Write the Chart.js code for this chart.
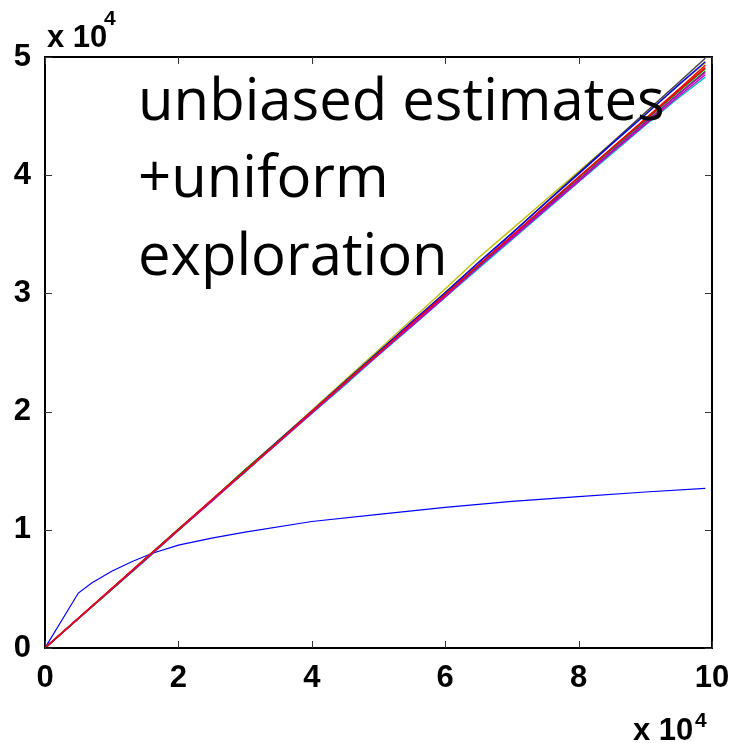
<!DOCTYPE html>
<html>
<head>
<meta charset="utf-8">
<script src="https://cdn.jsdelivr.net/npm/chart.js@4/dist/chart.umd.min.js"></script>
<style>
  body { margin: 0; background: #fff; }
  canvas { display: block; }
</style>
</head>
<body>
<canvas id="chart" width="742" height="743"></canvas>
<script>
// x positions shared by the near-linear runs
var xs = [0, 5000, 10000, 15000, 20000, 25000, 30000, 35000, 40000, 45000, 50000,
          55000, 60000, 65000, 70000, 75000, 80000, 85000, 90000, 95000, 99000];

// the one run that flattens out
var flatX = [0, 5000, 7000, 10000, 13000, 16000, 20000, 25000, 30000, 40000, 50000,
             60000, 70000, 80000, 90000, 99000];
var flatY = [0, 4650, 5500, 6500, 7300, 8000, 8700, 9300, 9800, 10700, 11300,
             11900, 12400, 12800, 13200, 13500];

var runGray    = [0, 2500, 4980, 7510, 10000, 12470, 15010, 17540, 20000, 22530, 25060, 27520, 30070, 32610, 35090, 37650, 40200, 42750, 45300, 47850, 49900];
var runBlue    = [0, 2510, 5020, 7500, 10030, 12510, 15040, 17560, 20030, 22570, 25050, 27590, 30060, 32610, 35080, 37630, 40110, 42650, 45120, 47640, 49600];
var runYellow  = [0, 2510, 5000, 7530, 10010, 12540, 15090, 17560, 20120, 22680, 25220, 27800, 30380, 33020, 35440, 37880, 40300, 42750, 45180, 47620, 49500];
var runRed     = [0, 2520, 5040, 7530, 10050, 12520, 15060, 17500, 19960, 22480, 24920, 27440, 29880, 32400, 34850, 37320, 39840, 42300, 44780, 47260, 49300];
var runRed2    = [0, 2520, 5030, 7550, 10020, 12540, 15000, 17470, 20010, 22480, 24940, 27470, 29910, 32430, 34870, 37390, 39830, 42300, 44740, 47170, 49100];
var runGreen2  = [0, 2500, 4990, 7540, 10060, 12480, 15080, 17520, 19940, 22530, 24960, 27390, 29940, 32340, 34800, 37250, 39770, 42200, 44640, 47080, 49000];
var runGreen   = [0, 2470, 4940, 7410, 9940, 12460, 14880, 17440, 19860, 22280, 24850, 27270, 29700, 32230, 34640, 37080, 39600, 42000, 44440, 46880, 48800];
var runMagenta = [0, 2490, 4980, 7460, 9970, 12420, 14940, 17390, 19920, 22350, 24880, 27240, 29700, 32260, 34620, 37050, 39480, 41940, 44300, 46680, 48500];
var runMag2    = [0, 2500, 4990, 7470, 9980, 12440, 14960, 17410, 19870, 22400, 24820, 27360, 29780, 32220, 34740, 37170, 39600, 42050, 44480, 46860, 48700];
var runCyan    = [0, 2490, 4970, 7480, 9940, 12410, 14930, 17370, 19850, 22300, 24760, 27210, 29670, 32100, 34540, 36980, 39420, 41820, 44220, 46550, 48300];

var xTicks = [0, 20000, 40000, 60000, 80000, 100000];
var yTicks = [0, 10000, 20000, 30000, 40000, 50000];
var noteLines = ['unbiased estimates', '+uniform', 'exploration'];

function pts(xv, yv) {
    return xv.map(function(x, i) { return { x: x, y: yv[i] }; });
}

function run(values, color) {
    return { data: pts(xs, values), borderColor: color, borderWidth: 1.4, pointRadius: 0, tension: 0 };
}

// dataset 0 ends up on top in Chart.js
var datasets = [
    run(runRed2,    'rgb(255,0,0)'),
    run(runMag2,    'rgb(191,0,191)'),
    run(runGreen2,  'rgb(0,128,0)'),
    run(runBlue,    'rgb(0,0,255)'),
    run(runGray,    'rgb(64,64,64)'),
    run(runYellow,  'rgb(191,191,0)'),
    run(runMagenta, 'rgb(191,0,191)'),
    run(runCyan,    'rgb(0,191,191)'),
    run(runRed,     'rgb(255,0,0)'),
    run(runGreen,   'rgb(0,128,0)'),
    { data: pts(flatX, flatY), borderColor: 'rgb(0,0,255)', borderWidth: 1.2, pointRadius: 0, tension: 0 }
];

var tickFont = { family: 'Liberation Sans, Arial, sans-serif', size: 31, weight: 'bold' };

// box, inward ticks, exponent labels and the note
var matlabFrame = {
    id: 'matlabFrame',
    afterDraw: function(chart) {
        var ctx = chart.ctx, a = chart.chartArea;
        var sx = chart.scales.x, sy = chart.scales.y;
        ctx.save();
        ctx.strokeStyle = '#000';
        ctx.lineWidth = 2;
        ctx.strokeRect(a.left, a.top, a.right - a.left, a.bottom - a.top);
        ctx.lineWidth = 1;
        ctx.strokeStyle = '#333';
        var len = 7;
        ctx.beginPath();
        xTicks.forEach(function(v) {
            var p = Math.round(sx.getPixelForValue(v)) + 0.5;
            ctx.moveTo(p, a.bottom); ctx.lineTo(p, a.bottom - len);
            ctx.moveTo(p, a.top); ctx.lineTo(p, a.top + len);
        });
        yTicks.forEach(function(v) {
            var p = Math.round(sy.getPixelForValue(v)) + 0.5;
            ctx.moveTo(a.left, p); ctx.lineTo(a.left + len, p);
            ctx.moveTo(a.right, p); ctx.lineTo(a.right - len, p);
        });
        ctx.stroke();

        ctx.fillStyle = '#000';
        ctx.textBaseline = 'alphabetic';
        ctx.textAlign = 'left';
        ctx.font = 'bold 31px Liberation Sans, Arial, sans-serif';
        ctx.fillText('x 10', 47, 47);
        ctx.fillText('x 10', 633, 740);
        ctx.font = 'bold 21px Liberation Sans, Arial, sans-serif';
        ctx.fillText('4', 104, 25);
        ctx.fillText('4', 695, 727);

        ctx.font = '58px Open Sans, sans-serif';
        var base = [120, 197, 275];
        noteLines.forEach(function(t, i) { ctx.fillText(t, 138, base[i]); });
        ctx.restore();
    }
};

new Chart(document.getElementById('chart'), {
    type: 'line',
    data: { datasets: datasets },
    options: {
        responsive: false,
        animation: false,
        layout: { padding: { top: 57, right: 30, left: 0, bottom: 0 } },
        plugins: { legend: { display: false }, tooltip: { enabled: false } },
        scales: {
            x: {
                type: 'linear', min: 0, max: 100000,
                afterFit: function(s) { s.height = 95; },
                afterBuildTicks: function(s) { s.ticks = xTicks.map(function(v) { return { value: v }; }); },
                grid: { display: false },
                border: { display: false },
                ticks: { font: tickFont, color: '#000', padding: 4, maxRotation: 0,
                         callback: function(v) { return v / 10000; } }
            },
            y: {
                type: 'linear', min: 0, max: 50000,
                afterFit: function(s) { s.width = 45; },
                afterBuildTicks: function(s) { s.ticks = yTicks.map(function(v) { return { value: v }; }); },
                grid: { display: false },
                border: { display: false },
                ticks: { font: tickFont, color: '#000', padding: 6,
                         callback: function(v) { return v / 10000; } }
            }
        }
    },
    plugins: [matlabFrame]
});
</script>
</body>
</html>
